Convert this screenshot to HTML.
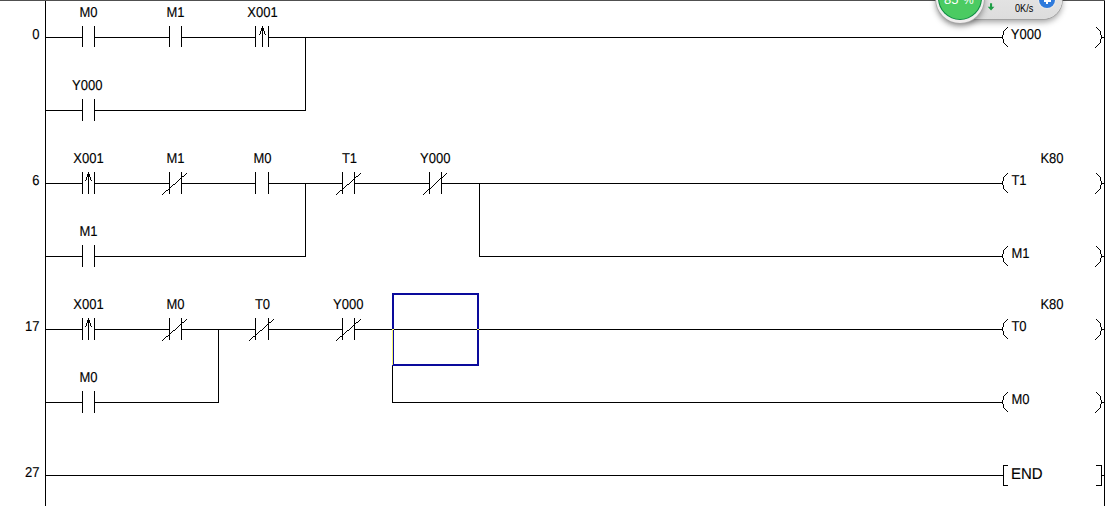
<!DOCTYPE html>
<html><head><meta charset="utf-8"><title>Ladder</title>
<style>
html,body{margin:0;padding:0;background:#fff;}
body{width:1105px;height:506px;overflow:hidden;position:relative;font-family:"Liberation Sans",sans-serif;}
svg{position:absolute;left:0;top:0;display:block}
svg text{font-family:"Liberation Sans",sans-serif;}
.top{position:absolute;left:0;top:0;width:1105px;height:1px;background:#505050}
.widget{position:absolute;left:0;top:0;width:1105px;height:60px;overflow:hidden;pointer-events:none}
.pill{position:absolute;left:940px;top:-19.5px;width:122.4px;height:38.5px;border-radius:19.5px;background:linear-gradient(#e8e8e8,#dddddd);box-shadow:0 0 0 0.8px #9c9c9c,0 3px 6px rgba(0,0,0,.38)}
.ball{position:absolute;left:935.7px;top:-26px;width:48.5px;height:48.5px;border-radius:50%;background:#efeded;box-shadow:0 0 0 0.8px #a8a8a8,0 3px 6px rgba(0,0,0,.4)}
.ball i{position:absolute;left:2.15px;top:2.15px;width:44.2px;height:44.2px;border-radius:50%;background:#0c8a42;display:block}
.ball b{position:absolute;left:3.05px;top:3.05px;width:42.4px;height:42.4px;border-radius:50%;background:#4bcb62;display:block}
.pct{position:absolute;left:944px;top:-8.5px;font-size:13px;line-height:15px;color:#fff;white-space:nowrap}
.pct span{font-size:12px;margin-left:4.5px}
.spd{position:absolute;left:1014.5px;top:1.6px;font-size:11px;line-height:13px;color:#000;white-space:nowrap;transform:scaleX(.83);transform-origin:0 0}
.plus{position:absolute;left:1038.2px;top:-9px;width:17.7px;height:17.7px;border-radius:50%;background:#e9e9e9}
.plus i{position:absolute;left:.85px;top:.85px;width:16px;height:16px;border-radius:50%;background:#2f7bdc;display:block}
.plus u,.plus s{position:absolute;background:#fff;display:block}
.plus u{left:5.4px;top:8.75px;width:7px;height:1.9px}
.plus s{left:7.9px;top:5.3px;width:2px;height:7.4px}
</style></head><body>
<svg width="1105" height="506" viewBox="0 0 1105 506" shape-rendering="crispEdges">
<rect x="45" y="0" width="1" height="506" fill="#000"/>
<rect x="1104" y="0" width="1" height="506" fill="#000"/>
<rect x="82" y="26" width="1" height="21" fill="#000"/>
<rect x="94" y="26" width="1" height="21" fill="#000"/>
<rect x="45" y="37" width="38" height="1" fill="#000"/>
<rect x="169" y="26" width="1" height="21" fill="#000"/>
<rect x="181" y="26" width="1" height="21" fill="#000"/>
<rect x="94" y="37" width="76" height="1" fill="#000"/>
<rect x="255" y="26" width="1" height="21" fill="#000"/>
<rect x="268" y="26" width="1" height="21" fill="#000"/>
<rect x="262" y="26" width="1" height="21" fill="#000"/>
<rect x="261" y="28" width="3" height="3"/>
<rect x="260" y="31" width="1" height="3" fill="#000"/>
<rect x="264" y="31" width="1" height="3" fill="#000"/>
<rect x="259" y="34" width="1" height="1"/><rect x="265" y="34" width="1" height="1"/>
<rect x="181" y="37" width="75" height="1" fill="#000"/>
<rect x="268" y="37" width="735" height="1" fill="#000"/>
<rect x="1007" y="27" width="1" height="1"/>
<rect x="1006" y="28" width="1" height="1"/>
<rect x="1005" y="29" width="1" height="1"/>
<rect x="1004" y="30" width="1" height="1"/>
<rect x="1003" y="31" width="1" height="1"/>
<rect x="1003" y="32" width="1" height="1"/>
<rect x="1003" y="33" width="1" height="1"/>
<rect x="1003" y="34" width="1" height="1"/>
<rect x="1002" y="35" width="1" height="1"/>
<rect x="1002" y="36" width="1" height="1"/>
<rect x="1002" y="37" width="1" height="1"/>
<rect x="1002" y="38" width="1" height="1"/>
<rect x="1003" y="39" width="1" height="1"/>
<rect x="1003" y="40" width="1" height="1"/>
<rect x="1003" y="41" width="1" height="1"/>
<rect x="1003" y="42" width="1" height="1"/>
<rect x="1004" y="43" width="1" height="1"/>
<rect x="1005" y="44" width="1" height="1"/>
<rect x="1006" y="45" width="1" height="1"/>
<rect x="1007" y="46" width="1" height="1"/>
<rect x="1096" y="27" width="1" height="1"/>
<rect x="1097" y="28" width="1" height="1"/>
<rect x="1098" y="29" width="1" height="1"/>
<rect x="1099" y="30" width="1" height="1"/>
<rect x="1100" y="31" width="1" height="1"/>
<rect x="1100" y="32" width="1" height="1"/>
<rect x="1100" y="33" width="1" height="1"/>
<rect x="1100" y="34" width="1" height="1"/>
<rect x="1101" y="35" width="1" height="1"/>
<rect x="1101" y="36" width="1" height="1"/>
<rect x="1101" y="37" width="1" height="1"/>
<rect x="1101" y="38" width="1" height="1"/>
<rect x="1100" y="39" width="1" height="1"/>
<rect x="1100" y="40" width="1" height="1"/>
<rect x="1100" y="41" width="1" height="1"/>
<rect x="1100" y="42" width="1" height="1"/>
<rect x="1099" y="43" width="1" height="1"/>
<rect x="1098" y="44" width="1" height="1"/>
<rect x="1097" y="45" width="1" height="1"/>
<rect x="1096" y="46" width="1" height="1"/>
<rect x="1095" y="47" width="1" height="1"/>
<rect x="1101" y="37" width="4" height="1" fill="#000"/>
<rect x="82" y="99" width="1" height="22" fill="#000"/>
<rect x="94" y="99" width="1" height="22" fill="#000"/>
<rect x="45" y="110" width="38" height="1" fill="#000"/>
<rect x="94" y="110" width="212" height="1" fill="#000"/>
<rect x="305" y="37" width="1" height="74" fill="#000"/>
<rect x="82" y="172" width="1" height="22" fill="#000"/>
<rect x="94" y="172" width="1" height="22" fill="#000"/>
<rect x="88" y="172" width="1" height="22" fill="#000"/>
<rect x="87" y="174" width="3" height="3"/>
<rect x="86" y="177" width="1" height="3" fill="#000"/>
<rect x="90" y="177" width="1" height="3" fill="#000"/>
<rect x="85" y="180" width="1" height="1"/><rect x="91" y="180" width="1" height="1"/>
<rect x="45" y="183" width="38" height="1" fill="#000"/>
<rect x="169" y="172" width="1" height="22" fill="#000"/>
<rect x="181" y="172" width="1" height="22" fill="#000"/>
<rect x="162" y="194" width="1" height="1"/>
<rect x="163" y="193" width="1" height="1"/>
<rect x="164" y="192" width="1" height="1"/>
<rect x="165" y="191" width="1" height="1"/>
<rect x="166" y="190" width="1" height="1"/>
<rect x="167" y="190" width="1" height="1"/>
<rect x="168" y="189" width="1" height="1"/>
<rect x="169" y="188" width="1" height="1"/>
<rect x="170" y="187" width="1" height="1"/>
<rect x="171" y="186" width="1" height="1"/>
<rect x="172" y="185" width="1" height="1"/>
<rect x="173" y="184" width="1" height="1"/>
<rect x="174" y="184" width="1" height="1"/>
<rect x="175" y="183" width="1" height="1"/>
<rect x="176" y="182" width="1" height="1"/>
<rect x="177" y="181" width="1" height="1"/>
<rect x="178" y="180" width="1" height="1"/>
<rect x="179" y="179" width="1" height="1"/>
<rect x="180" y="178" width="1" height="1"/>
<rect x="181" y="177" width="1" height="1"/>
<rect x="182" y="176" width="1" height="1"/>
<rect x="183" y="176" width="1" height="1"/>
<rect x="184" y="175" width="1" height="1"/>
<rect x="185" y="174" width="1" height="1"/>
<rect x="186" y="173" width="1" height="1"/>
<rect x="94" y="183" width="76" height="1" fill="#000"/>
<rect x="255" y="172" width="1" height="22" fill="#000"/>
<rect x="268" y="172" width="1" height="22" fill="#000"/>
<rect x="181" y="183" width="75" height="1" fill="#000"/>
<rect x="342" y="172" width="1" height="22" fill="#000"/>
<rect x="354" y="172" width="1" height="22" fill="#000"/>
<rect x="336" y="194" width="1" height="1"/>
<rect x="337" y="193" width="1" height="1"/>
<rect x="338" y="192" width="1" height="1"/>
<rect x="339" y="191" width="1" height="1"/>
<rect x="340" y="190" width="1" height="1"/>
<rect x="341" y="190" width="1" height="1"/>
<rect x="342" y="189" width="1" height="1"/>
<rect x="343" y="188" width="1" height="1"/>
<rect x="344" y="187" width="1" height="1"/>
<rect x="345" y="186" width="1" height="1"/>
<rect x="346" y="185" width="1" height="1"/>
<rect x="347" y="184" width="1" height="1"/>
<rect x="348" y="184" width="1" height="1"/>
<rect x="349" y="183" width="1" height="1"/>
<rect x="350" y="182" width="1" height="1"/>
<rect x="351" y="181" width="1" height="1"/>
<rect x="352" y="180" width="1" height="1"/>
<rect x="353" y="179" width="1" height="1"/>
<rect x="354" y="178" width="1" height="1"/>
<rect x="355" y="177" width="1" height="1"/>
<rect x="356" y="176" width="1" height="1"/>
<rect x="357" y="176" width="1" height="1"/>
<rect x="358" y="175" width="1" height="1"/>
<rect x="359" y="174" width="1" height="1"/>
<rect x="360" y="173" width="1" height="1"/>
<rect x="268" y="183" width="75" height="1" fill="#000"/>
<rect x="429" y="172" width="1" height="22" fill="#000"/>
<rect x="441" y="172" width="1" height="22" fill="#000"/>
<rect x="423" y="194" width="1" height="1"/>
<rect x="424" y="193" width="1" height="1"/>
<rect x="425" y="192" width="1" height="1"/>
<rect x="426" y="191" width="1" height="1"/>
<rect x="427" y="190" width="1" height="1"/>
<rect x="428" y="189" width="1" height="1"/>
<rect x="429" y="189" width="1" height="1"/>
<rect x="430" y="188" width="1" height="1"/>
<rect x="431" y="187" width="1" height="1"/>
<rect x="432" y="186" width="1" height="1"/>
<rect x="433" y="185" width="1" height="1"/>
<rect x="434" y="184" width="1" height="1"/>
<rect x="435" y="183" width="1" height="1"/>
<rect x="436" y="182" width="1" height="1"/>
<rect x="437" y="181" width="1" height="1"/>
<rect x="438" y="180" width="1" height="1"/>
<rect x="439" y="179" width="1" height="1"/>
<rect x="440" y="178" width="1" height="1"/>
<rect x="441" y="178" width="1" height="1"/>
<rect x="442" y="177" width="1" height="1"/>
<rect x="443" y="176" width="1" height="1"/>
<rect x="444" y="175" width="1" height="1"/>
<rect x="445" y="174" width="1" height="1"/>
<rect x="446" y="173" width="1" height="1"/>
<rect x="354" y="183" width="76" height="1" fill="#000"/>
<rect x="441" y="183" width="562" height="1" fill="#000"/>
<rect x="1007" y="173" width="1" height="1"/>
<rect x="1006" y="174" width="1" height="1"/>
<rect x="1005" y="175" width="1" height="1"/>
<rect x="1004" y="176" width="1" height="1"/>
<rect x="1003" y="177" width="1" height="1"/>
<rect x="1003" y="178" width="1" height="1"/>
<rect x="1003" y="179" width="1" height="1"/>
<rect x="1003" y="180" width="1" height="1"/>
<rect x="1002" y="181" width="1" height="1"/>
<rect x="1002" y="182" width="1" height="1"/>
<rect x="1002" y="183" width="1" height="1"/>
<rect x="1002" y="184" width="1" height="1"/>
<rect x="1003" y="185" width="1" height="1"/>
<rect x="1003" y="186" width="1" height="1"/>
<rect x="1003" y="187" width="1" height="1"/>
<rect x="1003" y="188" width="1" height="1"/>
<rect x="1004" y="189" width="1" height="1"/>
<rect x="1005" y="190" width="1" height="1"/>
<rect x="1006" y="191" width="1" height="1"/>
<rect x="1007" y="192" width="1" height="1"/>
<rect x="1096" y="173" width="1" height="1"/>
<rect x="1097" y="174" width="1" height="1"/>
<rect x="1098" y="175" width="1" height="1"/>
<rect x="1099" y="176" width="1" height="1"/>
<rect x="1100" y="177" width="1" height="1"/>
<rect x="1100" y="178" width="1" height="1"/>
<rect x="1100" y="179" width="1" height="1"/>
<rect x="1100" y="180" width="1" height="1"/>
<rect x="1101" y="181" width="1" height="1"/>
<rect x="1101" y="182" width="1" height="1"/>
<rect x="1101" y="183" width="1" height="1"/>
<rect x="1101" y="184" width="1" height="1"/>
<rect x="1100" y="185" width="1" height="1"/>
<rect x="1100" y="186" width="1" height="1"/>
<rect x="1100" y="187" width="1" height="1"/>
<rect x="1100" y="188" width="1" height="1"/>
<rect x="1099" y="189" width="1" height="1"/>
<rect x="1098" y="190" width="1" height="1"/>
<rect x="1097" y="191" width="1" height="1"/>
<rect x="1096" y="192" width="1" height="1"/>
<rect x="1095" y="193" width="1" height="1"/>
<rect x="1101" y="183" width="4" height="1" fill="#000"/>
<rect x="82" y="245" width="1" height="22" fill="#000"/>
<rect x="94" y="245" width="1" height="22" fill="#000"/>
<rect x="45" y="256" width="38" height="1" fill="#000"/>
<rect x="94" y="256" width="212" height="1" fill="#000"/>
<rect x="305" y="183" width="1" height="74" fill="#000"/>
<rect x="479" y="183" width="1" height="74" fill="#000"/>
<rect x="479" y="256" width="524" height="1" fill="#000"/>
<rect x="1007" y="246" width="1" height="1"/>
<rect x="1006" y="247" width="1" height="1"/>
<rect x="1005" y="248" width="1" height="1"/>
<rect x="1004" y="249" width="1" height="1"/>
<rect x="1003" y="250" width="1" height="1"/>
<rect x="1003" y="251" width="1" height="1"/>
<rect x="1003" y="252" width="1" height="1"/>
<rect x="1003" y="253" width="1" height="1"/>
<rect x="1002" y="254" width="1" height="1"/>
<rect x="1002" y="255" width="1" height="1"/>
<rect x="1002" y="256" width="1" height="1"/>
<rect x="1002" y="257" width="1" height="1"/>
<rect x="1003" y="258" width="1" height="1"/>
<rect x="1003" y="259" width="1" height="1"/>
<rect x="1003" y="260" width="1" height="1"/>
<rect x="1003" y="261" width="1" height="1"/>
<rect x="1004" y="262" width="1" height="1"/>
<rect x="1005" y="263" width="1" height="1"/>
<rect x="1006" y="264" width="1" height="1"/>
<rect x="1007" y="265" width="1" height="1"/>
<rect x="1096" y="246" width="1" height="1"/>
<rect x="1097" y="247" width="1" height="1"/>
<rect x="1098" y="248" width="1" height="1"/>
<rect x="1099" y="249" width="1" height="1"/>
<rect x="1100" y="250" width="1" height="1"/>
<rect x="1100" y="251" width="1" height="1"/>
<rect x="1100" y="252" width="1" height="1"/>
<rect x="1100" y="253" width="1" height="1"/>
<rect x="1101" y="254" width="1" height="1"/>
<rect x="1101" y="255" width="1" height="1"/>
<rect x="1101" y="256" width="1" height="1"/>
<rect x="1101" y="257" width="1" height="1"/>
<rect x="1100" y="258" width="1" height="1"/>
<rect x="1100" y="259" width="1" height="1"/>
<rect x="1100" y="260" width="1" height="1"/>
<rect x="1100" y="261" width="1" height="1"/>
<rect x="1099" y="262" width="1" height="1"/>
<rect x="1098" y="263" width="1" height="1"/>
<rect x="1097" y="264" width="1" height="1"/>
<rect x="1096" y="265" width="1" height="1"/>
<rect x="1095" y="266" width="1" height="1"/>
<rect x="1101" y="256" width="4" height="1" fill="#000"/>
<rect x="82" y="318" width="1" height="22" fill="#000"/>
<rect x="94" y="318" width="1" height="22" fill="#000"/>
<rect x="88" y="318" width="1" height="22" fill="#000"/>
<rect x="87" y="320" width="3" height="3"/>
<rect x="86" y="323" width="1" height="3" fill="#000"/>
<rect x="90" y="323" width="1" height="3" fill="#000"/>
<rect x="85" y="326" width="1" height="1"/><rect x="91" y="326" width="1" height="1"/>
<rect x="45" y="329" width="38" height="1" fill="#000"/>
<rect x="169" y="318" width="1" height="22" fill="#000"/>
<rect x="181" y="318" width="1" height="22" fill="#000"/>
<rect x="162" y="340" width="1" height="1"/>
<rect x="163" y="339" width="1" height="1"/>
<rect x="164" y="338" width="1" height="1"/>
<rect x="165" y="337" width="1" height="1"/>
<rect x="166" y="336" width="1" height="1"/>
<rect x="167" y="336" width="1" height="1"/>
<rect x="168" y="335" width="1" height="1"/>
<rect x="169" y="334" width="1" height="1"/>
<rect x="170" y="333" width="1" height="1"/>
<rect x="171" y="332" width="1" height="1"/>
<rect x="172" y="331" width="1" height="1"/>
<rect x="173" y="330" width="1" height="1"/>
<rect x="174" y="330" width="1" height="1"/>
<rect x="175" y="329" width="1" height="1"/>
<rect x="176" y="328" width="1" height="1"/>
<rect x="177" y="327" width="1" height="1"/>
<rect x="178" y="326" width="1" height="1"/>
<rect x="179" y="325" width="1" height="1"/>
<rect x="180" y="324" width="1" height="1"/>
<rect x="181" y="323" width="1" height="1"/>
<rect x="182" y="322" width="1" height="1"/>
<rect x="183" y="322" width="1" height="1"/>
<rect x="184" y="321" width="1" height="1"/>
<rect x="185" y="320" width="1" height="1"/>
<rect x="186" y="319" width="1" height="1"/>
<rect x="94" y="329" width="76" height="1" fill="#000"/>
<rect x="255" y="318" width="1" height="22" fill="#000"/>
<rect x="268" y="318" width="1" height="22" fill="#000"/>
<rect x="249" y="340" width="1" height="1"/>
<rect x="250" y="339" width="1" height="1"/>
<rect x="251" y="338" width="1" height="1"/>
<rect x="252" y="337" width="1" height="1"/>
<rect x="253" y="336" width="1" height="1"/>
<rect x="254" y="336" width="1" height="1"/>
<rect x="255" y="335" width="1" height="1"/>
<rect x="256" y="334" width="1" height="1"/>
<rect x="257" y="333" width="1" height="1"/>
<rect x="258" y="332" width="1" height="1"/>
<rect x="259" y="331" width="1" height="1"/>
<rect x="260" y="330" width="1" height="1"/>
<rect x="261" y="330" width="1" height="1"/>
<rect x="262" y="329" width="1" height="1"/>
<rect x="263" y="328" width="1" height="1"/>
<rect x="264" y="327" width="1" height="1"/>
<rect x="265" y="326" width="1" height="1"/>
<rect x="266" y="325" width="1" height="1"/>
<rect x="267" y="324" width="1" height="1"/>
<rect x="268" y="323" width="1" height="1"/>
<rect x="269" y="322" width="1" height="1"/>
<rect x="270" y="322" width="1" height="1"/>
<rect x="271" y="321" width="1" height="1"/>
<rect x="272" y="320" width="1" height="1"/>
<rect x="273" y="319" width="1" height="1"/>
<rect x="181" y="329" width="75" height="1" fill="#000"/>
<rect x="342" y="318" width="1" height="22" fill="#000"/>
<rect x="354" y="318" width="1" height="22" fill="#000"/>
<rect x="336" y="340" width="1" height="1"/>
<rect x="337" y="339" width="1" height="1"/>
<rect x="338" y="338" width="1" height="1"/>
<rect x="339" y="337" width="1" height="1"/>
<rect x="340" y="336" width="1" height="1"/>
<rect x="341" y="336" width="1" height="1"/>
<rect x="342" y="335" width="1" height="1"/>
<rect x="343" y="334" width="1" height="1"/>
<rect x="344" y="333" width="1" height="1"/>
<rect x="345" y="332" width="1" height="1"/>
<rect x="346" y="331" width="1" height="1"/>
<rect x="347" y="330" width="1" height="1"/>
<rect x="348" y="330" width="1" height="1"/>
<rect x="349" y="329" width="1" height="1"/>
<rect x="350" y="328" width="1" height="1"/>
<rect x="351" y="327" width="1" height="1"/>
<rect x="352" y="326" width="1" height="1"/>
<rect x="353" y="325" width="1" height="1"/>
<rect x="354" y="324" width="1" height="1"/>
<rect x="355" y="323" width="1" height="1"/>
<rect x="356" y="322" width="1" height="1"/>
<rect x="357" y="322" width="1" height="1"/>
<rect x="358" y="321" width="1" height="1"/>
<rect x="359" y="320" width="1" height="1"/>
<rect x="360" y="319" width="1" height="1"/>
<rect x="268" y="329" width="75" height="1" fill="#000"/>
<rect x="354" y="329" width="649" height="1" fill="#000"/>
<rect x="1007" y="319" width="1" height="1"/>
<rect x="1006" y="320" width="1" height="1"/>
<rect x="1005" y="321" width="1" height="1"/>
<rect x="1004" y="322" width="1" height="1"/>
<rect x="1003" y="323" width="1" height="1"/>
<rect x="1003" y="324" width="1" height="1"/>
<rect x="1003" y="325" width="1" height="1"/>
<rect x="1003" y="326" width="1" height="1"/>
<rect x="1002" y="327" width="1" height="1"/>
<rect x="1002" y="328" width="1" height="1"/>
<rect x="1002" y="329" width="1" height="1"/>
<rect x="1002" y="330" width="1" height="1"/>
<rect x="1003" y="331" width="1" height="1"/>
<rect x="1003" y="332" width="1" height="1"/>
<rect x="1003" y="333" width="1" height="1"/>
<rect x="1003" y="334" width="1" height="1"/>
<rect x="1004" y="335" width="1" height="1"/>
<rect x="1005" y="336" width="1" height="1"/>
<rect x="1006" y="337" width="1" height="1"/>
<rect x="1007" y="338" width="1" height="1"/>
<rect x="1096" y="319" width="1" height="1"/>
<rect x="1097" y="320" width="1" height="1"/>
<rect x="1098" y="321" width="1" height="1"/>
<rect x="1099" y="322" width="1" height="1"/>
<rect x="1100" y="323" width="1" height="1"/>
<rect x="1100" y="324" width="1" height="1"/>
<rect x="1100" y="325" width="1" height="1"/>
<rect x="1100" y="326" width="1" height="1"/>
<rect x="1101" y="327" width="1" height="1"/>
<rect x="1101" y="328" width="1" height="1"/>
<rect x="1101" y="329" width="1" height="1"/>
<rect x="1101" y="330" width="1" height="1"/>
<rect x="1100" y="331" width="1" height="1"/>
<rect x="1100" y="332" width="1" height="1"/>
<rect x="1100" y="333" width="1" height="1"/>
<rect x="1100" y="334" width="1" height="1"/>
<rect x="1099" y="335" width="1" height="1"/>
<rect x="1098" y="336" width="1" height="1"/>
<rect x="1097" y="337" width="1" height="1"/>
<rect x="1096" y="338" width="1" height="1"/>
<rect x="1095" y="339" width="1" height="1"/>
<rect x="1101" y="329" width="4" height="1" fill="#000"/>
<rect x="82" y="391" width="1" height="22" fill="#000"/>
<rect x="94" y="391" width="1" height="22" fill="#000"/>
<rect x="45" y="402" width="38" height="1" fill="#000"/>
<rect x="94" y="402" width="125" height="1" fill="#000"/>
<rect x="218" y="329" width="1" height="74" fill="#000"/>
<rect x="392" y="329" width="1" height="74" fill="#000"/>
<rect x="392" y="402" width="611" height="1" fill="#000"/>
<rect x="1007" y="392" width="1" height="1"/>
<rect x="1006" y="393" width="1" height="1"/>
<rect x="1005" y="394" width="1" height="1"/>
<rect x="1004" y="395" width="1" height="1"/>
<rect x="1003" y="396" width="1" height="1"/>
<rect x="1003" y="397" width="1" height="1"/>
<rect x="1003" y="398" width="1" height="1"/>
<rect x="1003" y="399" width="1" height="1"/>
<rect x="1002" y="400" width="1" height="1"/>
<rect x="1002" y="401" width="1" height="1"/>
<rect x="1002" y="402" width="1" height="1"/>
<rect x="1002" y="403" width="1" height="1"/>
<rect x="1003" y="404" width="1" height="1"/>
<rect x="1003" y="405" width="1" height="1"/>
<rect x="1003" y="406" width="1" height="1"/>
<rect x="1003" y="407" width="1" height="1"/>
<rect x="1004" y="408" width="1" height="1"/>
<rect x="1005" y="409" width="1" height="1"/>
<rect x="1006" y="410" width="1" height="1"/>
<rect x="1007" y="411" width="1" height="1"/>
<rect x="1096" y="392" width="1" height="1"/>
<rect x="1097" y="393" width="1" height="1"/>
<rect x="1098" y="394" width="1" height="1"/>
<rect x="1099" y="395" width="1" height="1"/>
<rect x="1100" y="396" width="1" height="1"/>
<rect x="1100" y="397" width="1" height="1"/>
<rect x="1100" y="398" width="1" height="1"/>
<rect x="1100" y="399" width="1" height="1"/>
<rect x="1101" y="400" width="1" height="1"/>
<rect x="1101" y="401" width="1" height="1"/>
<rect x="1101" y="402" width="1" height="1"/>
<rect x="1101" y="403" width="1" height="1"/>
<rect x="1100" y="404" width="1" height="1"/>
<rect x="1100" y="405" width="1" height="1"/>
<rect x="1100" y="406" width="1" height="1"/>
<rect x="1100" y="407" width="1" height="1"/>
<rect x="1099" y="408" width="1" height="1"/>
<rect x="1098" y="409" width="1" height="1"/>
<rect x="1097" y="410" width="1" height="1"/>
<rect x="1096" y="411" width="1" height="1"/>
<rect x="1095" y="412" width="1" height="1"/>
<rect x="1101" y="402" width="4" height="1" fill="#000"/>
<rect x="45" y="475" width="959" height="1" fill="#000"/>
<rect x="1003" y="465" width="1" height="21" fill="#000"/>
<rect x="1003" y="465" width="5" height="1" fill="#000"/>
<rect x="1003" y="485" width="5" height="1" fill="#000"/>
<rect x="1101" y="465" width="1" height="21" fill="#000"/>
<rect x="1096" y="465" width="6" height="1" fill="#000"/>
<rect x="1096" y="485" width="6" height="1" fill="#000"/>
<rect x="1101" y="475" width="4" height="1" fill="#000"/>
<rect x="393" y="294" width="85" height="71" fill="none" stroke="#0a0a9c" stroke-width="2"/>
<rect x="392" y="329" width="1" height="36" fill="#f5f56a"/>
<rect x="392" y="329" width="2" height="1" fill="#f5f56a"/>
<rect x="477" y="329" width="2" height="1" fill="#f5f56a"/>
<g text-rendering="geometricPrecision" stroke="#000" stroke-width="0.12">
<text transform="translate(88.5 17) scale(1 1.1)" text-anchor="middle" font-size="13" fill="#000">M0</text>
<text transform="translate(175.5 17) scale(1 1.1)" text-anchor="middle" font-size="13" fill="#000">M1</text>
<text transform="translate(262.5 17) scale(1 1.1)" text-anchor="middle" font-size="13" fill="#000">X001</text>
<text transform="translate(1010.8 39) scale(1 1.1)" text-anchor="start" font-size="13" fill="#000">Y000</text>
<text transform="translate(87.2 90) scale(1 1.1)" text-anchor="middle" font-size="13" fill="#000">Y000</text>
<text transform="translate(39.5 39) scale(1 1.1)" text-anchor="end" font-size="13" fill="#000">0</text>
<text transform="translate(88.5 163) scale(1 1.1)" text-anchor="middle" font-size="13" fill="#000">X001</text>
<text transform="translate(175.5 163) scale(1 1.1)" text-anchor="middle" font-size="13" fill="#000">M1</text>
<text transform="translate(262.5 163) scale(1 1.1)" text-anchor="middle" font-size="13" fill="#000">M0</text>
<text transform="translate(349.5 163) scale(1 1.1)" text-anchor="middle" font-size="13" fill="#000">T1</text>
<text transform="translate(435.2 163) scale(1 1.1)" text-anchor="middle" font-size="13" fill="#000">Y000</text>
<text transform="translate(1011.4 185) scale(1 1.1)" text-anchor="start" font-size="13" fill="#000">T1</text>
<text transform="translate(1052 163) scale(1 1.1)" text-anchor="middle" font-size="13" fill="#000">K80</text>
<text transform="translate(88.5 236) scale(1 1.1)" text-anchor="middle" font-size="13" fill="#000">M1</text>
<text transform="translate(1011.4 258) scale(1 1.1)" text-anchor="start" font-size="13" fill="#000">M1</text>
<text transform="translate(39.5 185) scale(1 1.1)" text-anchor="end" font-size="13" fill="#000">6</text>
<text transform="translate(88.5 309) scale(1 1.1)" text-anchor="middle" font-size="13" fill="#000">X001</text>
<text transform="translate(175.5 309) scale(1 1.1)" text-anchor="middle" font-size="13" fill="#000">M0</text>
<text transform="translate(262.5 309) scale(1 1.1)" text-anchor="middle" font-size="13" fill="#000">T0</text>
<text transform="translate(348.2 309) scale(1 1.1)" text-anchor="middle" font-size="13" fill="#000">Y000</text>
<text transform="translate(1011.4 331) scale(1 1.1)" text-anchor="start" font-size="13" fill="#000">T0</text>
<text transform="translate(1052 309) scale(1 1.1)" text-anchor="middle" font-size="13" fill="#000">K80</text>
<text transform="translate(88.5 382) scale(1 1.1)" text-anchor="middle" font-size="13" fill="#000">M0</text>
<text transform="translate(1011.4 404) scale(1 1.1)" text-anchor="start" font-size="13" fill="#000">M0</text>
<text transform="translate(39.5 331) scale(1 1.1)" text-anchor="end" font-size="13" fill="#000">17</text>
<text transform="translate(1011 479) scale(1 1.05)" text-anchor="start" font-size="15" fill="#000">END</text>
<text transform="translate(39.5 477) scale(1 1.1)" text-anchor="end" font-size="13" fill="#000">27</text>
</g>
</svg>
<div class="top"></div>
<div class="widget">
<div class="pill"></div>
<div class="ball"><i></i><b></b></div>
<div class="pct">85<span>%</span></div>
<svg width="8" height="9" viewBox="0 0 8 9" style="left:987px;top:2.6px" shape-rendering="auto"><path d="M3 0.3h2.1v3.5h2.3L4.05 7.6 0.7 3.8H3z" fill="#1e9e46"/></svg>
<div class="spd">0K/s</div>
<div class="plus"><i></i><u></u><s></s></div>
</div>
</body></html>
